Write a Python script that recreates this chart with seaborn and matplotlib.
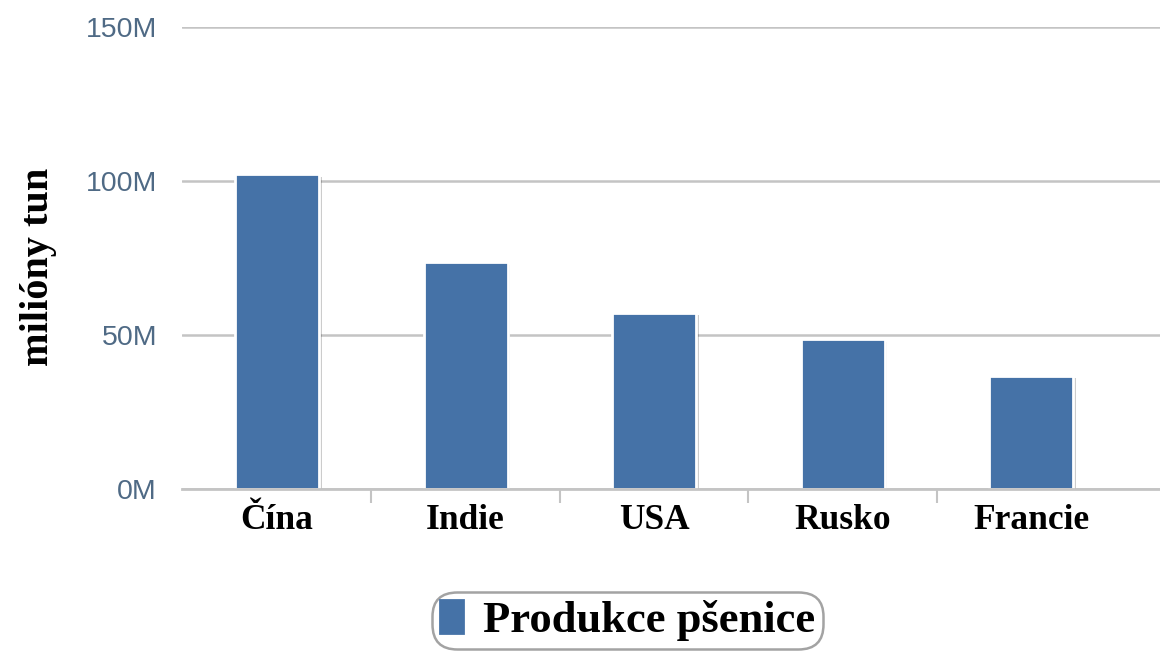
import matplotlib
matplotlib.use("Agg")
import matplotlib.pyplot as plt
import matplotlib.patheffects as pe
from matplotlib.ticker import FuncFormatter, FixedLocator
import seaborn as sns
import pandas as pd

# Wheat production by country (millions of tonnes)
countries = ["Čína", "Indie", "USA", "Rusko", "Francie"]
production = [102.1, 73.6, 57.2, 48.6, 36.7]
series_name = "Produkce pšenice"
y_ticks = [0, 50, 100, 150]

df = pd.DataFrame({"country": countries, "production": production})

sns.set_theme(style="white")
plt.rcParams["font.family"] = ["Liberation Sans", "DejaVu Sans"]

BAR = "#4572A7"
GRID = "#c4c4c4"
TICK_TXT = "#4f6a85"
SERIF = ["Liberation Serif", "DejaVu Serif"]

fig = plt.figure(figsize=(11.6, 6.55), dpi=100)
ax = fig.add_axes([0.157, 0.254, 0.843, 0.705])

sns.barplot(data=df, x="country", y="production", color=BAR, width=0.445,
            edgecolor="white", linewidth=2, saturation=1, ax=ax,
            label=series_name)

for p in ax.patches:
    p.set_path_effects([pe.SimplePatchShadow(offset=(2, -2), alpha=0.2,
                                             shadow_rgbFace="#000000"),
                        pe.Normal()])

ax.set_ylim(0, 150)
ax.set_xlim(-0.504, 4.684)
ax.yaxis.set_major_locator(FixedLocator(y_ticks))
ax.yaxis.set_major_formatter(FuncFormatter(lambda v, _: f"{v:.0f}M"))
ax.grid(axis="y", color=GRID, linewidth=1.8)
ax.set_axisbelow(True)
for s in ["top", "right", "left"]:
    ax.spines[s].set_visible(False)
ax.spines["bottom"].set_color(GRID)
ax.spines["bottom"].set_linewidth(2)

ax.tick_params(axis="y", length=0, pad=18, labelsize=20.5, labelcolor=TICK_TXT)
ax.tick_params(axis="x", which="major", length=0, pad=11)
ax.set_xticks(range(len(countries)))
ax.set_xticklabels(countries, fontsize=25.5, fontweight="bold",
                   family=SERIF, color="black")
ax.xaxis.set_minor_locator(FixedLocator([0.5, 1.5, 2.5, 3.5]))
ax.tick_params(axis="x", which="minor", length=10, width=1.5, color=GRID,
               direction="out", bottom=True)

ax.set_xlabel("")
ax.set_ylabel("milióny tun", fontsize=29, fontweight="bold",
              family=SERIF, color="black")
ax.yaxis.set_label_coords(-0.128, 0.48)

if ax.get_legend() is not None:
    ax.get_legend().remove()
handles, labels = ax.get_legend_handles_labels()
leg = fig.legend(handles, labels, loc="center", bbox_to_anchor=(0.541, 0.053),
                 frameon=True, fancybox=True, handlelength=0.5, handleheight=0.75,
                 handletextpad=0.45, borderpad=0.06, labelcolor="black",
                 prop={"family": SERIF, "weight": "bold", "size": 32})
frame = leg.get_frame()
frame.set_edgecolor("#8c8c8c")
frame.set_linewidth(1.8)
frame.set_boxstyle("round,pad=0.12,rounding_size=0.55")
for h in leg.legend_handles:
    h.set_edgecolor(BAR)
    h.set_path_effects([])

fig.savefig("out.png", dpi=100)
